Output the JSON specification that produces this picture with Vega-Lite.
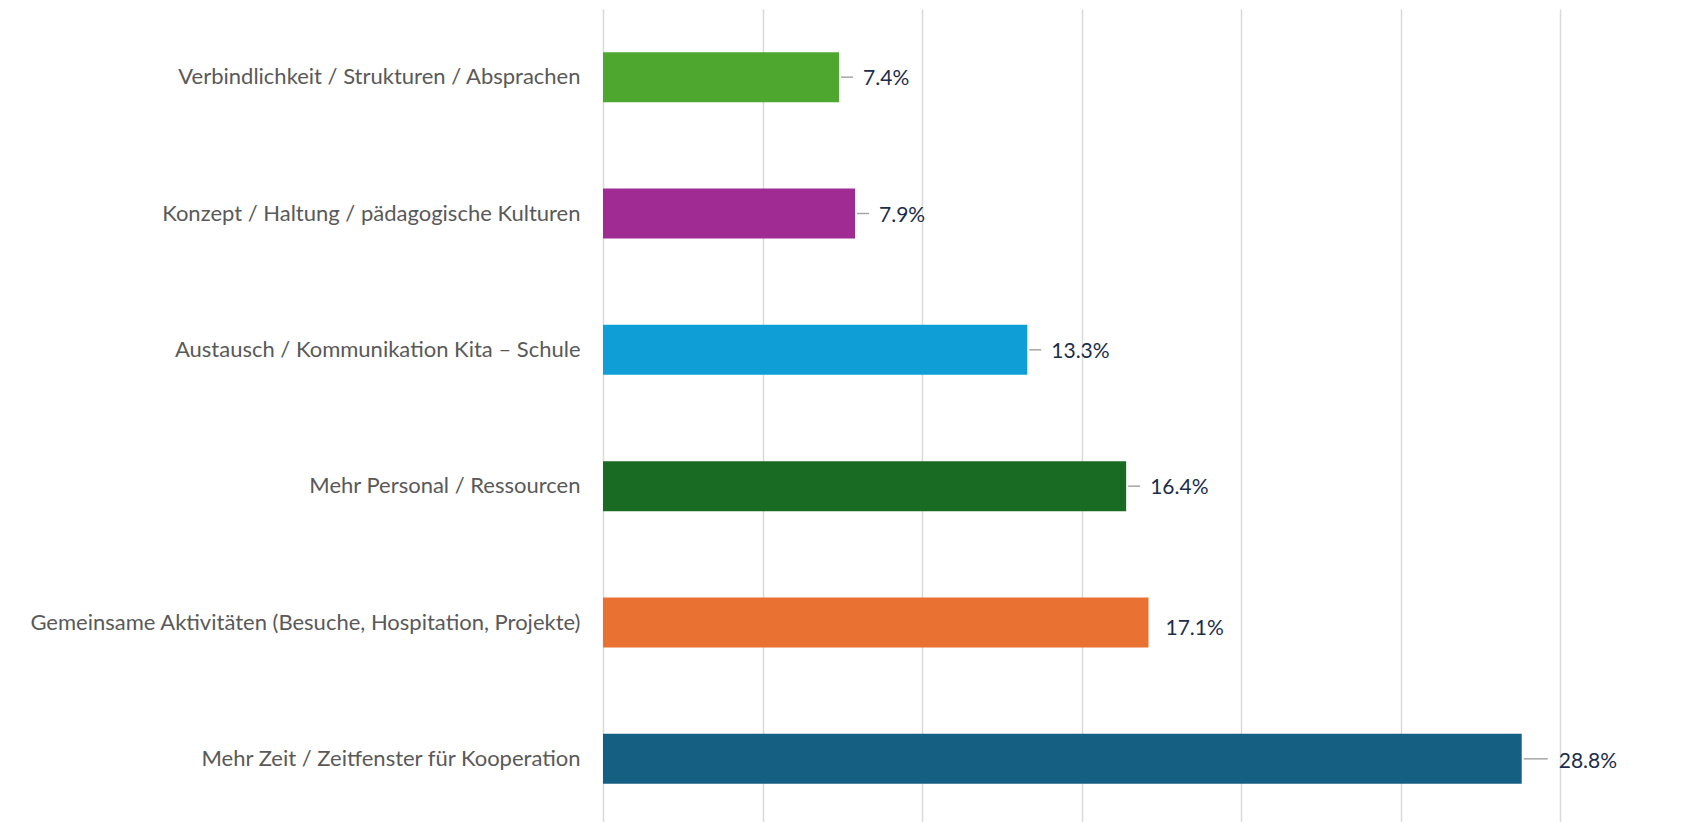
{
  "$schema": "https://vega.github.io/schema/vega-lite/v6.json",
  "width": 957,
  "height": 818,
  "autosize": {"type": "none"},
  "padding": {"left": 603, "top": 9, "right": 144, "bottom": 0},
  "background": "white",
  "config": {"view": {"stroke": null}},
  "data": {
    "values": [
      {"category": "Verbindlichkeit / Strukturen / Absprachen", "value": 0.074},
      {"category": "Konzept / Haltung / pädagogische Kulturen", "value": 0.079},
      {"category": "Austausch / Kommunikation Kita – Schule", "value": 0.133},
      {"category": "Mehr Personal / Ressourcen", "value": 0.164},
      {"category": "Gemeinsame Aktivitäten (Besuche, Hospitation, Projekte)", "value": 0.171},
      {"category": "Mehr Zeit / Zeitfenster für Kooperation", "value": 0.288}
    ]
  },
  "encoding": {
    "y": {
      "field": "category",
      "type": "nominal",
      "sort": null,
      "scale": {"paddingInner": 0.633, "paddingOuter": 0.3165},
      "axis": {
        "title": null,
        "domain": false,
        "ticks": false,
        "labelPadding": 23,
        "labelLimit": 700,
        "labelFont": "Lato",
        "labelFontSize": 22,
        "labelColor": "#595959"
      }
    }
  },
  "layer": [
    {
      "mark": {"type": "bar"},
      "encoding": {
        "x": {
          "field": "value",
          "type": "quantitative",
          "scale": {"domain": [0, 0.3], "nice": false},
          "axis": {
            "title": null,
            "labels": false,
            "ticks": false,
            "domain": false,
            "grid": true,
            "values": [0, 0.05, 0.1, 0.15, 0.2, 0.25, 0.3],
            "gridColor": "#d9d9d9",
            "gridWidth": 1.5
          }
        },
        "color": {
          "field": "category",
          "type": "nominal",
          "legend": null,
          "scale": {
            "domain": [
              "Verbindlichkeit / Strukturen / Absprachen",
              "Konzept / Haltung / pädagogische Kulturen",
              "Austausch / Kommunikation Kita – Schule",
              "Mehr Personal / Ressourcen",
              "Gemeinsame Aktivitäten (Besuche, Hospitation, Projekte)",
              "Mehr Zeit / Zeitfenster für Kooperation"
            ],
            "range": ["#4EA72E", "#A02B93", "#0F9ED5", "#196B24", "#E97132", "#156082"]
          }
        }
      }
    },
    {
      "transform": [{"filter": "datum.value < 0.17 || (datum.value > 0.172 && datum.value < 0.28)"}],
      "mark": {"type": "rule", "color": "#a6a6a6", "strokeWidth": 1.5, "xOffset": 2, "x2Offset": 14},
      "encoding": {
        "x": {"field": "value", "type": "quantitative"},
        "x2": {"field": "value"}
      }
    },
    {
      "transform": [{"filter": "datum.value > 0.28"}],
      "mark": {"type": "rule", "color": "#a6a6a6", "strokeWidth": 1.5, "xOffset": 2, "x2Offset": 26},
      "encoding": {
        "x": {"field": "value", "type": "quantitative"},
        "x2": {"field": "value"}
      }
    },
    {
      "transform": [{"filter": "datum.value < 0.17"}],
      "mark": {"type": "text", "align": "left", "baseline": "middle", "dx": 24, "dy": 2, "font": "Lato", "fontSize": 21, "color": "#1b2d4b"},
      "encoding": {
        "x": {"field": "value", "type": "quantitative"},
        "text": {"field": "value", "type": "quantitative", "format": ".1%"}
      }
    },
    {
      "transform": [{"filter": "datum.value > 0.17 && datum.value < 0.172"}],
      "mark": {"type": "text", "align": "left", "baseline": "middle", "dx": 17, "dy": 6, "font": "Lato", "fontSize": 21, "color": "#1b2d4b"},
      "encoding": {
        "x": {"field": "value", "type": "quantitative"},
        "text": {"field": "value", "type": "quantitative", "format": ".1%"}
      }
    },
    {
      "transform": [{"filter": "datum.value > 0.28"}],
      "mark": {"type": "text", "align": "left", "baseline": "middle", "dx": 37, "dy": 3, "font": "Lato", "fontSize": 21, "color": "#1b2d4b"},
      "encoding": {
        "x": {"field": "value", "type": "quantitative"},
        "text": {"field": "value", "type": "quantitative", "format": ".1%"}
      }
    }
  ]
}
